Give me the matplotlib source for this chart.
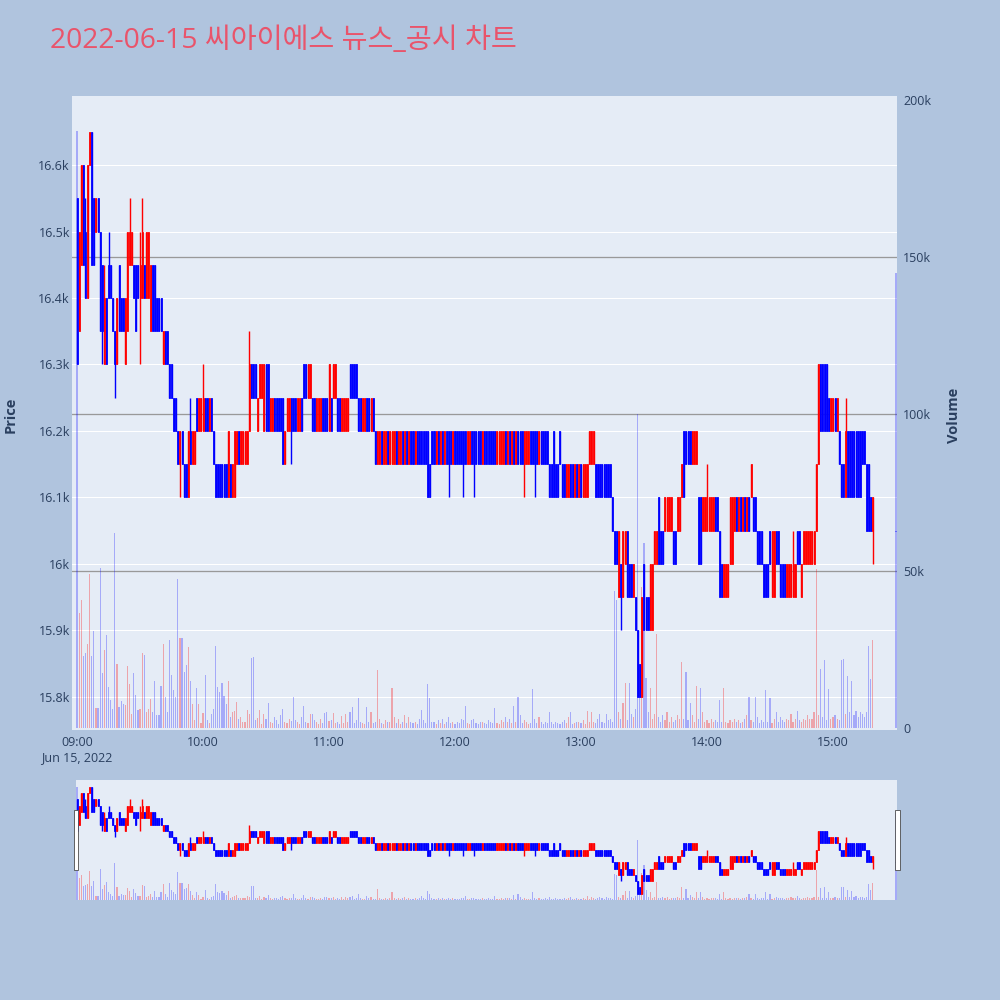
import matplotlib
matplotlib.use("Agg")
import matplotlib.pyplot as plt
from matplotlib.patches import Rectangle
from matplotlib.transforms import blended_transform_factory

plt.rcParams['font.family'] = ['Open Sans', 'Noto Sans CJK KR', 'DejaVu Sans']

TITLE = "2022-06-15 씨아이에스 뉴스_공시 차트"

# minute offsets from 09:00 (one candle per minute, plus the 15:30 closing auction)
minutes = list(range(0, 380)) + [390]

opens = [
    16550, 16350, 16450, 16600, 16500, 16400, 16600, 16650, 16550, 16500,
    16550, 16500, 16450, 16300, 16400, 16450, 16450, 16400, 16350, 16300,
    16450, 16400, 16400, 16300, 16350, 16450, 16450, 16450, 16450, 16450,
    16400, 16400, 16450, 16400, 16400, 16350, 16450, 16450, 16400, 16400,
    16400, 16300, 16350, 16350, 16300, 16300, 16250, 16250, 16200, 16150,
    16200, 16150, 16150, 16100, 16200, 16150, 16150, 16250, 16200, 16200,
    16200, 16250, 16250, 16200, 16250, 16200, 16150, 16150, 16150, 16150,
    16150, 16150, 16100, 16150, 16100, 16100, 16150, 16200, 16150, 16150,
    16150, 16150, 16200, 16300, 16300, 16300, 16200, 16250, 16250, 16200,
    16300, 16300, 16200, 16200, 16250, 16250, 16250, 16250, 16250, 16150,
    16200, 16200, 16250, 16250, 16250, 16200, 16200, 16250, 16300, 16300,
    16250, 16250, 16250, 16250, 16200, 16200, 16200, 16250, 16250, 16250,
    16200, 16250, 16250, 16250, 16250, 16250, 16200, 16200, 16200, 16200,
    16300, 16300, 16300, 16300, 16250, 16250, 16200, 16200, 16250, 16250,
    16200, 16250, 16200, 16150, 16150, 16200, 16150, 16150, 16200, 16150,
    16150, 16150, 16200, 16150, 16150, 16200, 16150, 16200, 16150, 16200,
    16200, 16150, 16200, 16200, 16200, 16200, 16200, 16200, 16150, 16200,
    16200, 16150, 16200, 16150, 16200, 16150, 16200, 16200, 16200, 16150,
    16200, 16200, 16200, 16200, 16200, 16200, 16150, 16150, 16200, 16200,
    16200, 16200, 16200, 16150, 16200, 16200, 16200, 16200, 16200, 16200,
    16150, 16150, 16150, 16150, 16200, 16150, 16200, 16150, 16200, 16150,
    16200, 16200, 16200, 16150, 16150, 16150, 16200, 16200, 16200, 16200,
    16150, 16200, 16200, 16200, 16200, 16150, 16150, 16200, 16150, 16150,
    16200, 16150, 16150, 16100, 16100, 16150, 16150, 16100, 16150, 16100,
    16150, 16100, 16100, 16100, 16150, 16150, 16150, 16150, 16150, 16150,
    16150, 16150, 16150, 16150, 16150, 16100, 16050, 16050, 15950, 16000,
    15950, 16000, 16050, 16000, 16000, 15950, 15950, 15900, 15850, 15800,
    16000, 15950, 15950, 15900, 15900, 16000, 16000, 16100, 16050, 16050,
    16050, 16050, 16050, 16050, 16050, 16050, 16050, 16050, 16100, 16200,
    16200, 16200, 16200, 16150, 16150, 16150, 16100, 16100, 16050, 16050,
    16050, 16050, 16050, 16050, 16100, 16100, 16050, 16000, 15950, 15950,
    15950, 16000, 16000, 16050, 16100, 16050, 16100, 16050, 16100, 16050,
    16100, 16100, 16100, 16100, 16050, 16050, 16050, 16000, 16000, 16000,
    16050, 15950, 15950, 16050, 16050, 16000, 16000, 16000, 15950, 15950,
    15950, 15950, 15950, 16050, 16050, 15950, 16000, 16000, 16000, 16000,
    16000, 16000, 16050, 16150, 16300, 16300, 16300, 16300, 16250, 16200,
    16200, 16250, 16200, 16200, 16150, 16150, 16100, 16200, 16200, 16200,
    16200, 16200, 16200, 16200, 16200, 16200, 16150, 16150, 16100, 16050,
    16050,
]

closes = [
    16300, 16500, 16600, 16450, 16400, 16600, 16650, 16450, 16450, 16550,
    16500, 16350, 16350, 16400, 16300, 16400, 16400, 16350, 16300, 16400,
    16350, 16350, 16350, 16400, 16500, 16500, 16500, 16400, 16350, 16400,
    16450, 16500, 16400, 16500, 16500, 16450, 16350, 16350, 16350, 16350,
    16350, 16350, 16300, 16300, 16250, 16250, 16200, 16200, 16150, 16200,
    16150, 16100, 16100, 16200, 16150, 16200, 16200, 16200, 16250, 16250,
    16250, 16200, 16200, 16250, 16200, 16150, 16100, 16100, 16100, 16100,
    16100, 16100, 16200, 16100, 16150, 16200, 16200, 16150, 16200, 16200,
    16200, 16200, 16300, 16250, 16250, 16250, 16250, 16300, 16300, 16300,
    16200, 16200, 16250, 16250, 16200, 16200, 16200, 16200, 16150, 16200,
    16250, 16250, 16200, 16200, 16200, 16250, 16250, 16200, 16250, 16250,
    16300, 16300, 16200, 16200, 16250, 16250, 16250, 16200, 16200, 16200,
    16300, 16200, 16300, 16300, 16200, 16200, 16250, 16250, 16250, 16250,
    16250, 16250, 16250, 16250, 16200, 16200, 16250, 16250, 16200, 16200,
    16250, 16200, 16150, 16200, 16200, 16150, 16200, 16200, 16150, 16200,
    16200, 16200, 16150, 16200, 16200, 16150, 16200, 16150, 16200, 16150,
    16150, 16200, 16150, 16150, 16150, 16150, 16150, 16100, 16100, 16150,
    16150, 16200, 16150, 16200, 16150, 16200, 16150, 16150, 16150, 16200,
    16150, 16150, 16150, 16150, 16150, 16150, 16200, 16200, 16150, 16150,
    16150, 16150, 16150, 16200, 16150, 16150, 16150, 16150, 16150, 16150,
    16200, 16200, 16200, 16200, 16150, 16200, 16150, 16200, 16150, 16200,
    16150, 16150, 16150, 16200, 16200, 16200, 16150, 16150, 16150, 16150,
    16200, 16150, 16150, 16150, 16150, 16100, 16100, 16100, 16100, 16100,
    16150, 16100, 16100, 16150, 16150, 16100, 16100, 16150, 16100, 16150,
    16100, 16150, 16150, 16150, 16200, 16200, 16200, 16100, 16100, 16100,
    16100, 16100, 16100, 16100, 16100, 16050, 16000, 16000, 16050, 15950,
    16050, 16050, 15950, 15950, 15950, 16000, 15900, 15800, 15800, 15950,
    15900, 15900, 15900, 16000, 16000, 16050, 16050, 16000, 16000, 16000,
    16100, 16100, 16100, 16100, 16000, 16000, 16100, 16100, 16150, 16100,
    16150, 16150, 16150, 16200, 16200, 16200, 16000, 16000, 16100, 16100,
    16100, 16100, 16100, 16100, 16050, 16050, 15950, 15950, 16000, 16000,
    16000, 16100, 16100, 16100, 16050, 16100, 16050, 16100, 16050, 16100,
    16050, 16150, 16050, 16050, 16000, 16000, 16000, 15950, 15950, 15950,
    16000, 16050, 16050, 16000, 16000, 15950, 15950, 15950, 16000, 16000,
    16000, 16000, 16000, 16000, 16000, 16000, 16050, 16050, 16050, 16050,
    16050, 16050, 16150, 16300, 16200, 16200, 16200, 16200, 16200, 16250,
    16250, 16200, 16250, 16150, 16100, 16100, 16200, 16100, 16100, 16100,
    16100, 16100, 16100, 16100, 16150, 16150, 16050, 16050, 16050, 16100,
    16050,
]

# wick extremes that reach beyond the candle body (minute -> price)
upper_wicks = {4: 16550, 13: 16450, 15: 16500, 25: 16550, 30: 16500, 31: 16550,
               54: 16250, 60: 16300, 82: 16350, 300: 16150, 341: 16050, 366: 16250}
lower_wicks = {12: 16300, 18: 16250, 30: 16300, 49: 16100, 102: 16150, 177: 16100,
               184: 16100, 189: 16100, 213: 16100, 218: 16100, 259: 15900, 379: 16000}

volumes = [
    190000, 36600, 40800, 23000, 24000, 26800, 49000, 23000, 30900, 6500,
    6500, 51000, 17500, 25000, 29700, 13000, 9000, 6000, 62000, 20400,
    6800, 8700, 7500, 7200, 19900, 14000, 4500, 17500, 10500, 5700,
    6000, 24000, 23300, 5200, 6000, 9300, 5200, 15000, 4200, 4200,
    13500, 26600, 10000, 5000, 28000, 16800, 12000, 9800, 47300, 28700,
    28700, 17700, 20000, 25700, 15000, 7500, 2500, 12800, 7700, 1500,
    4800, 16800, 2700, 1700, 4300, 6000, 26000, 13000, 11500, 14300,
    10300, 7800, 15000, 3500, 5200, 5400, 8200, 3000, 3500, 1900,
    1900, 5700, 4300, 22400, 22700, 2600, 3300, 5700, 1300, 4500,
    3000, 8000, 2000, 1500, 3500, 2500, 1200, 4000, 6000, 2000,
    1500, 3000, 2200, 10000, 2500, 1800, 1200, 3500, 7000, 2000,
    1500, 4500, 4500, 2500, 1800, 1200, 3000, 1500, 4800, 5000,
    2200, 2500, 4800, 1500, 2000, 1200, 3800, 1500, 4500, 2000,
    5000, 6800, 1500, 2500, 9500, 2000, 1500, 1200, 6800, 2000,
    5000, 1500, 1800, 18500, 3000, 1500, 1200, 2500, 1800, 2000,
    12700, 3500, 1500, 2800, 1200, 2000, 4000, 1500, 3500, 1800,
    1500, 2000, 1200, 3000, 5800, 2500, 1500, 14000, 9500, 2000,
    1800, 1200, 2500, 1500, 3000, 1200, 1800, 3500, 1500, 2000,
    1200, 1800, 1500, 3000, 2500, 6900, 1500, 1200, 2500, 3000,
    1500, 1200, 1800, 2000, 1500, 1200, 2500, 1800, 1500, 6500,
    1500, 1200, 2500, 1800, 3500, 2000, 3000, 1500, 7000, 1800,
    10000, 4000, 1500, 2500, 1800, 1200, 1500, 12400, 3000, 1500,
    3500, 1800, 1200, 2000, 1500, 5000, 1800, 1200, 2000, 1500,
    1200, 1800, 2500, 1500, 3500, 5000, 1200, 1500, 2000, 1800,
    1500, 2500, 1200, 5500, 1800, 5000, 2000, 1500, 3000, 4500,
    2000, 1500, 4500, 2500, 3000, 1800, 43600, 40800, 5000, 3000,
    8000, 14300, 2500, 14300, 4500, 3500, 6000, 100000, 12000, 45000,
    59000, 16000, 5000, 12700, 3000, 4500, 30000, 3500, 2000, 4000,
    2500, 5000, 1800, 3500, 2000, 2500, 4000, 3000, 21000, 3000,
    17800, 2500, 8000, 4000, 2000, 13400, 3000, 12700, 5000, 1800,
    2500, 1500, 3000, 2000, 2500, 1800, 8900, 1800, 12700, 2000,
    1500, 2500, 1800, 3000, 2000, 2500, 1500, 2000, 3000, 4000,
    10000, 2500, 1800, 10000, 3500, 1500, 2500, 2000, 12000, 1800,
    9500, 1500, 3000, 5000, 2000, 3500, 2500, 1800, 3000, 2500,
    4500, 2000, 3000, 5500, 2500, 1800, 3000, 2500, 4000, 3000,
    3000, 5000, 50600, 4000, 18800, 3500, 21700, 2500, 12400, 3000,
    3500, 4000, 3000, 2500, 21700, 22000, 4500, 16500, 5000, 15000,
    4000, 5500, 3500, 5000, 4500, 3500, 5000, 26000, 15600, 28000,
    145000,
]

assert len(opens) == len(closes) == len(volumes) == len(minutes)

hour_ticks = [0, 60, 120, 180, 240, 300, 360]
hour_labels = ["09:00", "10:00", "11:00", "12:00", "13:00", "14:00", "15:00"]
price_ticks = [15800, 15900, 16000, 16100, 16200, 16300, 16400, 16500, 16600]
price_labels = ["15.8k", "15.9k", "16k", "16.1k", "16.2k", "16.3k", "16.4k", "16.5k", "16.6k"]
vol_ticks = [0, 50000, 100000, 150000, 200000]
vol_labels = ["0", "50k", "100k", "150k", "200k"]

highs = [upper_wicks.get(m, max(o, c)) for m, o, c in zip(minutes, opens, closes)]
lows = [lower_wicks.get(m, min(o, c)) for m, o, c in zip(minutes, opens, closes)]
up = [c > o for o, c in zip(opens, closes)]
cand_col = ['#FF0000' if u else '#0000FF' for u in up]
vol_col = [(1, 0, 0, 0.30) if u else (0, 0, 1, 0.28) for u in up]

BG = '#B0C4DE'
PLOT_BG = '#E5ECF6'
TXT = '#2a3f5f'
PX = 0.72  # one pixel in points at dpi 100

PRICE_LIM = (15750, 16704)
VOL_LIM = (-640, 201300)

fig = plt.figure(figsize=(10, 10), dpi=100, facecolor=BG)


def draw(ax_v, ax_p, slider=False):
    ax_v.set_facecolor(PLOT_BG)
    ax_p.patch.set_visible(False)
    for a in (ax_v, ax_p):
        for s in a.spines.values():
            s.set_visible(False)
    ax_p.set_ylim(*PRICE_LIM)
    ax_v.set_ylim(*VOL_LIM)
    if not slider:
        tr = blended_transform_factory(ax_v.transAxes, ax_p.transData)
        for t in price_ticks:
            ax_v.plot([0, 1], [t, t], transform=tr, color='white', lw=1.0 * PX, zorder=0.5)
        for t in vol_ticks[1:4]:
            ax_v.axhline(t, color='#999999', lw=1.3 * PX, zorder=0.8)
    ax_v.bar(minutes, volumes, width=0.55, color=vol_col, linewidth=0, zorder=1)
    ax_p.vlines(minutes, lows, highs, colors=cand_col, lw=1.4 * PX, zorder=2)
    bottoms = [min(o, c) for o, c in zip(opens, closes)]
    heights = [abs(c - o) for o, c in zip(opens, closes)]
    ax_p.bar(minutes, heights, bottom=bottoms, width=0.48, color=cand_col,
             edgecolor=cand_col, linewidth=0.8 * PX, zorder=3)


# main chart
ax_vol = fig.add_axes([0.072, 0.270, 0.825, 0.634])
ax_price = ax_vol.twinx()
draw(ax_vol, ax_price)
ax_vol.set_xlim(-2.4, 390.5)

ax_vol.yaxis.tick_right()
ax_vol.set_yticks(vol_ticks)
ax_vol.set_yticklabels(vol_labels)
ax_vol.set_xticks(hour_ticks)
ax_vol.set_xticklabels(hour_labels)
ax_vol.tick_params(axis='y', length=0, pad=4.3, labelsize=9, labelcolor=TXT)
ax_vol.tick_params(axis='x', length=0, pad=4.0, labelsize=9, labelcolor=TXT)

ax_price.yaxis.tick_left()
ax_price.set_yticks(price_ticks)
ax_price.set_yticklabels(price_labels)
ax_price.tick_params(axis='y', length=0, pad=1.5, labelsize=9, labelcolor=TXT)

date_tr = blended_transform_factory(ax_vol.transData, fig.transFigure)
ax_vol.text(0, 0.242, "Jun 15, 2022", transform=date_tr, ha='center', va='center',
            fontsize=9, color=TXT)

fig.text(0.011, 0.585, "Price", rotation=90, ha='center', va='center',
         fontsize=10.5, fontweight='bold', color=TXT)
fig.text(0.954, 0.585, "Volume", rotation=90, ha='center', va='center',
         fontsize=10.5, fontweight='bold', color=TXT)

fig.text(0.05, 0.959, TITLE, ha='left', va='center', fontsize=20.3, color='#E9546B',
         family=['Open Sans', 'Noto Sans CJK KR', 'DejaVu Sans'])

# range slider
sl_vol = fig.add_axes([0.076, 0.100, 0.821, 0.120])
sl_price = sl_vol.twinx()
draw(sl_vol, sl_price, slider=True)
sl_vol.set_xlim(-0.5, 390.5)
for a in (sl_vol, sl_price):
    a.set_xticks([])
    a.set_yticks([])

for x0 in (0.0735, 0.8950):
    fig.patches.append(Rectangle((x0, 0.130), 0.0045, 0.060, transform=fig.transFigure,
                                 facecolor='white', edgecolor='#444444', lw=0.8 * PX,
                                 zorder=5))

fig.savefig("out.png", dpi=100, facecolor=BG)
